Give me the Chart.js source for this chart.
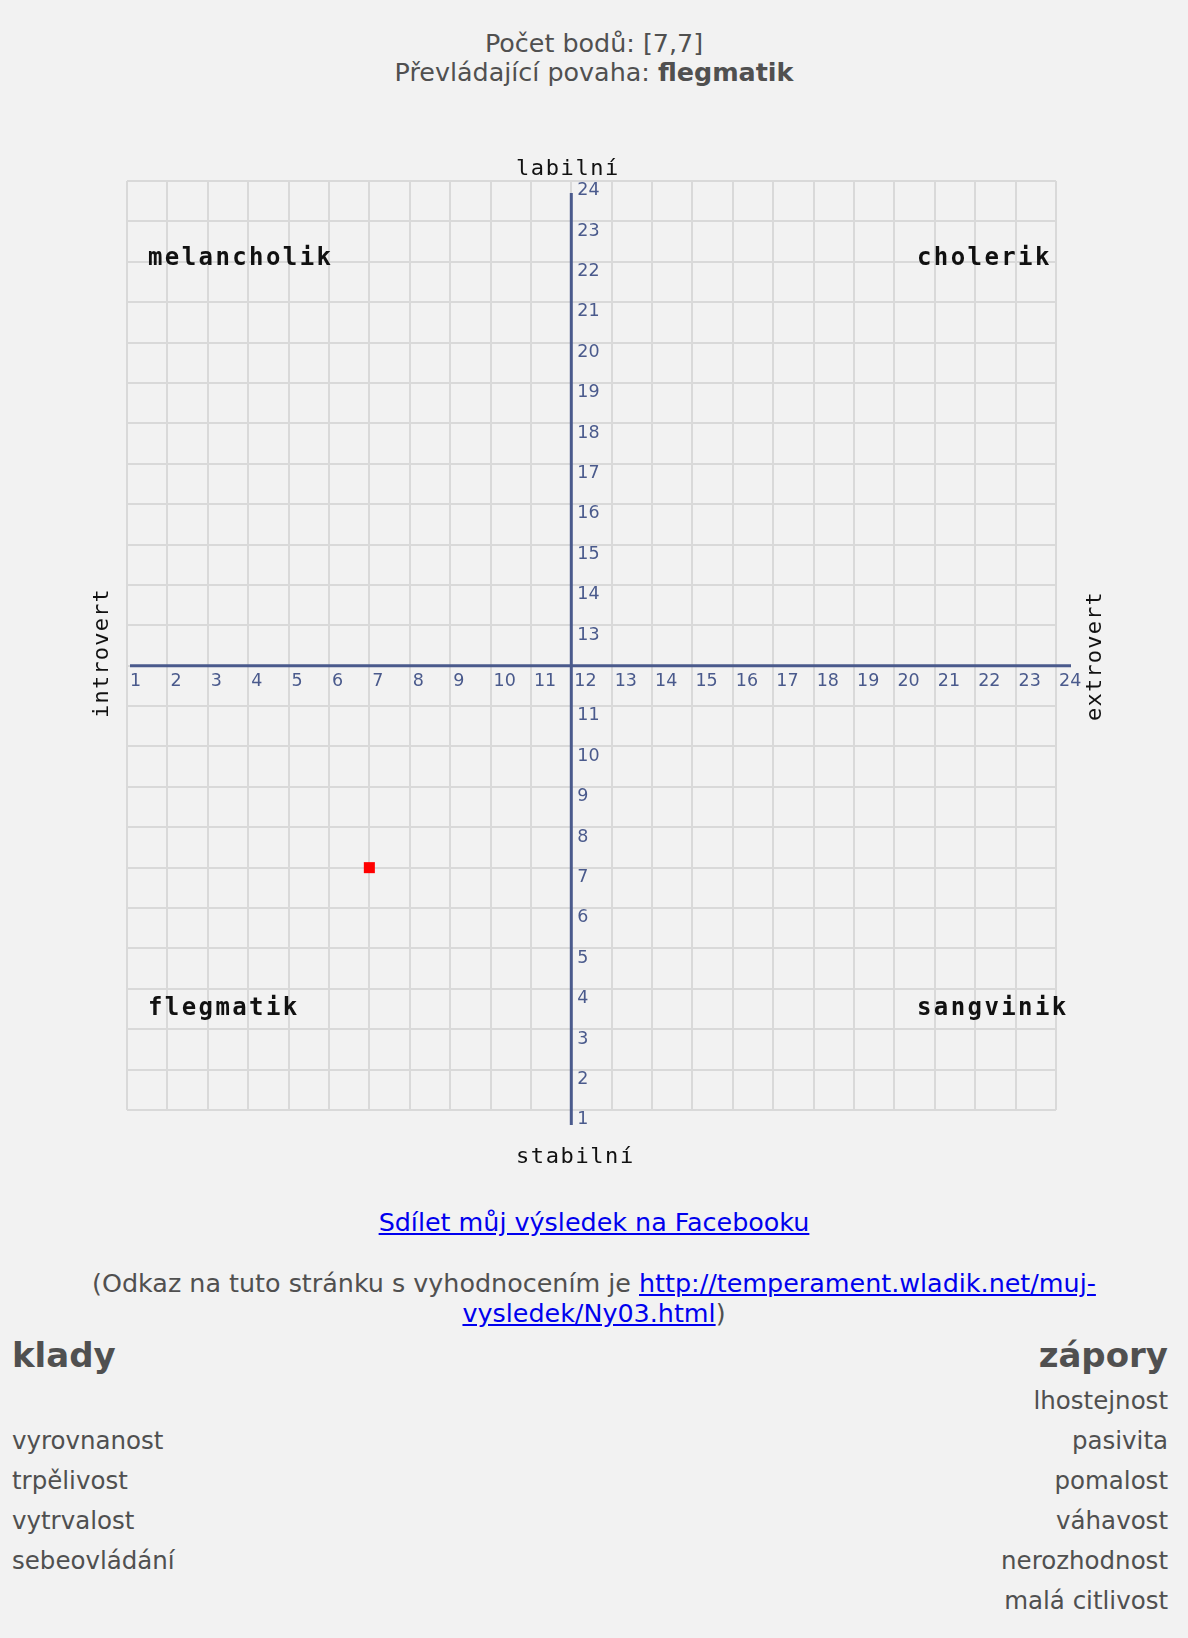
<!DOCTYPE html>
<html lang="cs">
<head>
<meta charset="utf-8">
<script src="https://cdn.jsdelivr.net/npm/chart.js@4.4.1/dist/chart.umd.min.js"></script>
<style>
  html, body { margin:0; padding:0; background:#f2f2f2; }
  body { width:1188px; height:1638px; position:relative; overflow:hidden;
         font-family:"DejaVu Sans",sans-serif; color:#505050; font-size:24.5px; }
  .abs { position:absolute; }
  .center { left:0; width:1188px; text-align:center; font-size:25.4px; }
  a { color:#0000ee; text-decoration:underline; }
  #chartBox { position:absolute; left:0; top:0; width:1188px; height:1180px; }
  .row { position:absolute; height:40px; line-height:40px; white-space:nowrap; }
  .left { left:12px; }
  .right { right:20px; text-align:right; }
  h2 { margin:0; font-size:34px; font-weight:bold; }
</style>
</head>
<body>
<div class="abs center" style="top:29px; line-height:29px;">Počet bodů: [7,7]<br>Převládající povaha: <b>flegmatik</b></div>

<div id="chartBox"><canvas id="c"></canvas></div>

<div class="abs center" style="top:1207px; line-height:30px;"><a href="#">Sdílet můj výsledek na Facebooku</a></div>
<div class="abs center" style="top:1268px; line-height:30px;">(Odkaz na tuto stránku s vyhodnocením je <a href="#">http://temperament.wladik.net/muj-<br>vysledek/Ny03.html</a>)</div>

<div class="row left" style="top:1335px;"><h2 style="line-height:40px;">klady</h2></div>
<div class="row right" style="top:1335px;"><h2 style="line-height:40px;">zápory</h2></div>
<div id="lists"></div>

<script>
// ---- data ----
const scoreX = [7];
const scoreY = [7];
const axisMin = 1;
const axisMax = 24;
const crossing = 12;
const xTickValues = [1,2,3,4,5,6,7,8,9,10,11,12,13,14,15,16,17,18,19,20,21,22,23,24];
const xTickLabels = ['1','2','3','4','5','6','7','8','9','10','11','12','13','14','15','16','17','18','19','20','21','22','23','24'];
const yTickValues = [1,2,3,4,5,6,7,8,9,10,11,13,14,15,16,17,18,19,20,21,22,23,24];
const yTickLabels = ['1','2','3','4','5','6','7','8','9','10','11','13','14','15','16','17','18','19','20','21','22','23','24'];
const axisTitles = ['labilní','stabilní','introvert','extrovert'];
const quadrantNames = ['melancholik','cholerik','flegmatik','sangvinik'];
const positives = ['', 'vyrovnanost','trpělivost','vytrvalost','sebeovládání'];
const negatives = ['lhostejnost','pasivita','pomalost','váhavost','nerozhodnost','malá citlivost'];

// ---- lists ----
const lists = document.getElementById('lists');
const rowCenters0 = 1401, rowStep = 40;
positives.forEach((t,i)=>{ const d=document.createElement('div'); d.className='row left'; d.style.top=(rowCenters0 + i*rowStep - 20)+'px'; d.textContent=t; lists.appendChild(d); });
negatives.forEach((t,i)=>{ const d=document.createElement('div'); d.className='row right'; d.style.top=(rowCenters0 + i*rowStep - 20)+'px'; d.textContent=t; lists.appendChild(d); });

// ---- chart ----
const AXIS_COLOR = '#4a5a8c';
const MONO = '"DejaVu Sans Mono","Liberation Mono",monospace';

function spaced(ctx, text, x, y, spacing) {
  let cx = x;
  for (const ch of text) { ctx.fillText(ch, cx, y); cx += ctx.measureText(ch).width + spacing; }
}

const overlay = {
  id: 'overlay',
  beforeDatasetsDraw(chart) {
    const {ctx, chartArea:a, scales:{x, y}} = chart;
    const ax = x.getPixelForValue(crossing);
    const ay = y.getPixelForValue(crossing);
    ctx.save();
    // axes
    ctx.strokeStyle = AXIS_COLOR; ctx.lineWidth = 3;
    ctx.beginPath(); ctx.moveTo(a.left + 3, ay); ctx.lineTo(a.right + 15, ay); ctx.stroke();
    ctx.beginPath(); ctx.moveTo(ax, a.top + 12); ctx.lineTo(ax, a.bottom + 15); ctx.stroke();
    // tick labels
    ctx.fillStyle = AXIS_COLOR; ctx.font = '17.5px "DejaVu Sans"'; ctx.textBaseline = 'top'; ctx.textAlign = 'left';
    xTickValues.forEach((v,i)=>{ ctx.fillText(xTickLabels[i], x.getPixelForValue(v) + 3, ay + 7); });
    yTickValues.forEach((v,i)=>{ ctx.fillText(yTickLabels[i], ax + 6, y.getPixelForValue(v) + 1); });
    // axis titles
    ctx.fillStyle = '#111'; ctx.textBaseline = 'alphabetic';
    ctx.font = '22px ' + MONO;
    spaced(ctx, axisTitles[0], 516, a.top - 6, 1.6);
    spaced(ctx, axisTitles[1], 516, a.bottom + 53, 1.6);
    ctx.save(); ctx.translate(108, 718); ctx.rotate(-Math.PI/2); spaced(ctx, axisTitles[2], 0, 0, 1.2); ctx.restore();
    ctx.save(); ctx.translate(1101, 721); ctx.rotate(-Math.PI/2); spaced(ctx, axisTitles[3], 0, 0, 1.2); ctx.restore();
    // quadrant names
    ctx.font = 'bold 24px ' + MONO;
    spaced(ctx, quadrantNames[0], a.left + 21, a.top + 84, 2.4);
    spaced(ctx, quadrantNames[1], a.left + 790, a.top + 84, 2.4);
    spaced(ctx, quadrantNames[2], a.left + 21, a.bottom - 95, 2.4);
    spaced(ctx, quadrantNames[3], a.left + 790, a.bottom - 95, 2.4);
    ctx.restore();
  }
};

new Chart(document.getElementById('c'), {
  type: 'scatter',
  data: { datasets: [{
    data: scoreX.map((v,i)=>({x:v, y:scoreY[i]})),
    backgroundColor:'#ff0000', borderColor:'#ff0000', borderWidth:0,
    pointStyle:'rect', pointRadius:7.8, pointHoverRadius:7.8
  }]},
  options: {
    responsive:true, maintainAspectRatio:false, animation:false,
    layout:{ padding:{ left:127, top:181, right:132, bottom:70 } },
    plugins:{ legend:{display:false}, tooltip:{enabled:false} },
    events: [],
    scales:{
      x:{ type:'linear', min:axisMin, max:axisMax,
          ticks:{ display:false, stepSize:1 },
          grid:{ color:'#d9d9d9', lineWidth:2, drawTicks:false },
          border:{ display:false } },
      y:{ type:'linear', min:axisMin, max:axisMax,
          ticks:{ display:false, stepSize:1 },
          grid:{ color:'#d9d9d9', lineWidth:2, drawTicks:false },
          border:{ display:false } }
    }
  },
  plugins:[overlay]
});
</script>
</body>
</html>
